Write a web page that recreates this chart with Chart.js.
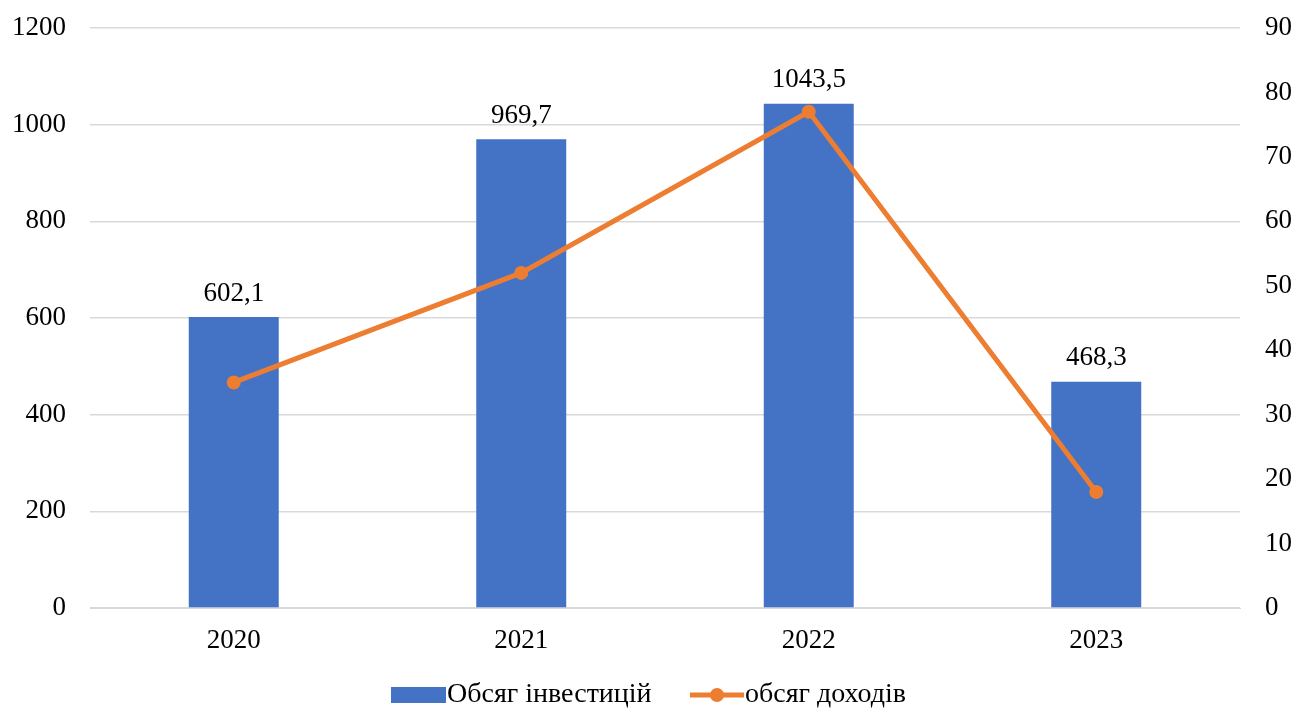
<!DOCTYPE html>
<html>
<head>
<meta charset="utf-8">
<script src="https://cdn.jsdelivr.net/npm/chart.js"></script>
<style>
  html, body { margin: 0; padding: 0; background: #fff; }
  #wrap { width: 1295px; height: 709px; }
</style>
</head>
<body>
<div id="wrap"><canvas id="chart"></canvas></div>
<script>
// Data
const years = ['2020', '2021', '2022', '2023'];
const investments = [602.1, 969.7, 1043.5, 468.3];
const incomes = [35, 52, 77, 18];
const barLabels = ['602,1', '969,7', '1043,5', '468,3'];

const FONT = '"Liberation Serif", "Times New Roman", serif';
const FSIZE = 27;
const LEGEND_SIZE = 28;
const BLUE = '#4472C4';
const ORANGE = '#ED7D31';

// Value labels above the bars
const barLabelPlugin = {
  id: 'barLabels',
  afterDatasetsDraw(chart) {
    const ctx = chart.ctx;
    const meta = chart.getDatasetMeta(0);
    ctx.save();
    ctx.font = FSIZE + 'px ' + FONT;
    ctx.fillStyle = '#000';
    ctx.textAlign = 'center';
    ctx.textBaseline = 'bottom';
    meta.data.forEach((bar, i) => {
      ctx.fillText(barLabels[i], bar.x, bar.y - 10);
    });
    ctx.restore();
  }
};

// Legend drawn at the bottom (bar box + line with marker)
const legendPlugin = {
  id: 'customLegend',
  afterDraw(chart) {
    const ctx = chart.ctx;
    const y = 695;
    ctx.save();
    ctx.font = LEGEND_SIZE + 'px ' + FONT;
    ctx.fillStyle = BLUE;
    ctx.fillRect(391, y - 8, 55, 16);
    ctx.fillStyle = '#000';
    ctx.textBaseline = 'middle';
    ctx.textAlign = 'left';
    ctx.fillText(chart.data.datasets[0].label, 447, y);
    ctx.strokeStyle = ORANGE;
    ctx.lineWidth = 5;
    ctx.beginPath();
    ctx.moveTo(690, y);
    ctx.lineTo(744, y);
    ctx.stroke();
    ctx.fillStyle = ORANGE;
    ctx.beginPath();
    ctx.arc(717, y, 7, 0, Math.PI * 2);
    ctx.fill();
    ctx.fillStyle = '#000';
    ctx.fillText(chart.data.datasets[1].label, 745, y);
    ctx.restore();
  }
};

new Chart(document.getElementById('chart'), {
  data: {
    labels: years,
    datasets: [
      {
        type: 'bar',
        label: 'Обсяг інвестицій',
        data: investments,
        yAxisID: 'y',
        backgroundColor: BLUE,
        categoryPercentage: 1,
        barPercentage: 0.313,
        order: 1
      },
      {
        type: 'line',
        label: 'обсяг доходів',
        data: incomes,
        yAxisID: 'y1',
        borderColor: ORANGE,
        backgroundColor: ORANGE,
        borderWidth: 5,
        pointRadius: 7,
        pointHoverRadius: 7,
        pointBackgroundColor: ORANGE,
        pointBorderWidth: 0,
        tension: 0,
        order: 0
      }
    ]
  },
  options: {
    responsive: true,
    maintainAspectRatio: false,
    animation: false,
    layout: { padding: { top: 28, bottom: 50, left: 0, right: 0 } },
    plugins: {
      legend: { display: false },
      tooltip: { enabled: false }
    },
    scales: {
      x: {
        grid: { display: false },
        border: { display: true, color: '#d9d9d9' },
        ticks: { color: '#000', font: { family: FONT, size: FSIZE }, padding: 9 },
        afterFit(scale) { scale.height = 51; scale.paddingLeft = 0; scale.paddingRight = 0; }
      },
      y: {
        position: 'left',
        min: 0,
        max: 1200,
        ticks: {
          stepSize: 200, color: '#000', font: { family: FONT, size: FSIZE }, padding: 24,
          callback: v => String(v)
        },
        grid: { color: '#d9d9d9', lineWidth: 1.5, drawTicks: false },
        border: { display: false },
        afterFit(scale) { scale.width = 90; scale.paddingTop = 0; scale.paddingBottom = 0; }
      },
      y1: {
        position: 'right',
        min: 0,
        max: 90,
        ticks: { stepSize: 10, color: '#000', font: { family: FONT, size: FSIZE }, padding: 25 },
        grid: { display: false, drawTicks: false },
        border: { display: false },
        afterFit(scale) { scale.width = 55; scale.paddingTop = 0; scale.paddingBottom = 0; }
      }
    }
  },
  plugins: [barLabelPlugin, legendPlugin]
});
</script>
</body>
</html>
